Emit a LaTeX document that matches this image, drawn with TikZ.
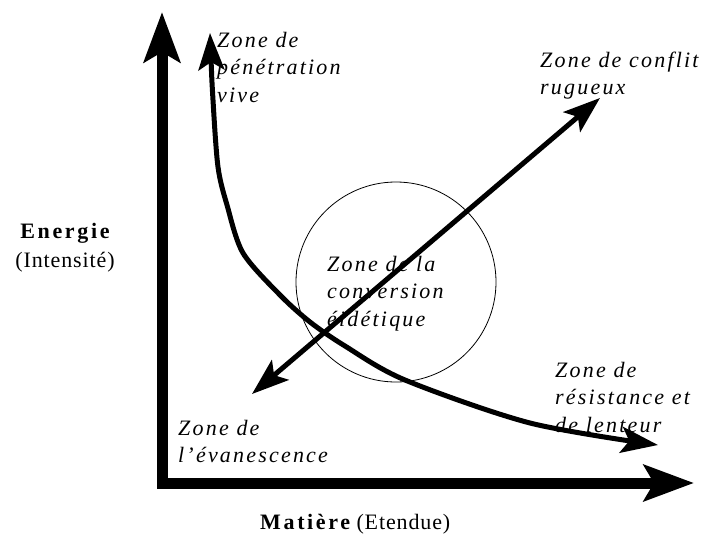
\documentclass[tikz,border=0pt]{standalone}
\usepackage{fontspec}
\setmainfont{Liberation Serif}
\newfontfamily\zonefamily[LetterSpace=10]{Liberation Serif}
\newfontfamily\labfamily[LetterSpace=4]{Liberation Serif}
\newfontfamily\boldfamily[LetterSpace=12]{Liberation Serif}
\newcommand\zonefont{\zonefamily\itshape\fontsize{22}{27.5}\selectfont}
\newcommand\labfont{\labfamily\fontsize{22}{29}\selectfont}
\usetikzlibrary{arrows.meta}
\begin{document}
\begin{tikzpicture}[x=1pt,y=-1pt,
  axis/.style={line width=11pt, line join=miter,
    {Stealth[length=50pt,width=36pt,inset=10pt]}-{Stealth[length=50pt,width=36pt,inset=10pt]}},
  flow/.style={line width=5pt,
    {Stealth[length=37pt,width=26pt,inset=8pt]}-{Stealth[length=37pt,width=26pt,inset=8pt]}},
  zone/.style={font=\zonefont, align=left, anchor=base west, inner sep=0pt},
  lab/.style={font=\labfont, inner sep=0pt, anchor=base}
]
\useasboundingbox (0,0) rectangle (707,536);
% axes
\coordinate (ytip) at (162,12);
\coordinate (origin) at (162,483);
\coordinate (xtip) at (694,483);
\draw[axis] (ytip) -- (origin) -- (xtip);
% circle
\node[draw, circle, line width=0.8pt, minimum size=200pt, inner sep=0pt] (circ) at (396,282) {};
% curve
\coordinate (c1) at (210,33);
\coordinate (c2) at (213,100);
\coordinate (c3) at (218,167);
\coordinate (c4) at (227,205);
\coordinate (c5) at (243,253);
\coordinate (c6) at (280,295);
\coordinate (c7) at (310,322);
\coordinate (c8) at (345,346);
\coordinate (c9) at (405,380);
\coordinate (c10) at (530,423);
\coordinate (c11) at (658,445);
\draw[flow] plot[smooth, tension=0.5] coordinates {(c1) (c2) (c3) (c4) (c5) (c6) (c7) (c8) (c9) (c10) (c11)};
% diagonal
\coordinate (dlow) at (252,394);
\coordinate (dhigh) at (600,98);
\draw[flow] (dlow) -- (dhigh);
% labels (base anchor = last line's baseline)
\node[zone] (zpen) at (217,102) {Zone de\\pénétration\\vive};
\node[zone] (zconf) at (540,94.5) {Zone de conflit\\rugueux};
\node[zone] (zconv) at (327,326) {Zone de la\\conversion\\éidétique};
\node[zone] (zres) at (555,432) {Zone de\\résistance et\\de lenteur};
\node[zone] (zeva) at (178,462.5) {Zone de\\l’évanescence};
\node[lab, align=center] (energ) at (65,267) {{\boldfamily\bfseries Energie}\\(Intensité)};
\node[lab, anchor=base west] (mat) at (260,529) {{\boldfamily\bfseries Matière} (Etendue)};
\end{tikzpicture}
\end{document}
